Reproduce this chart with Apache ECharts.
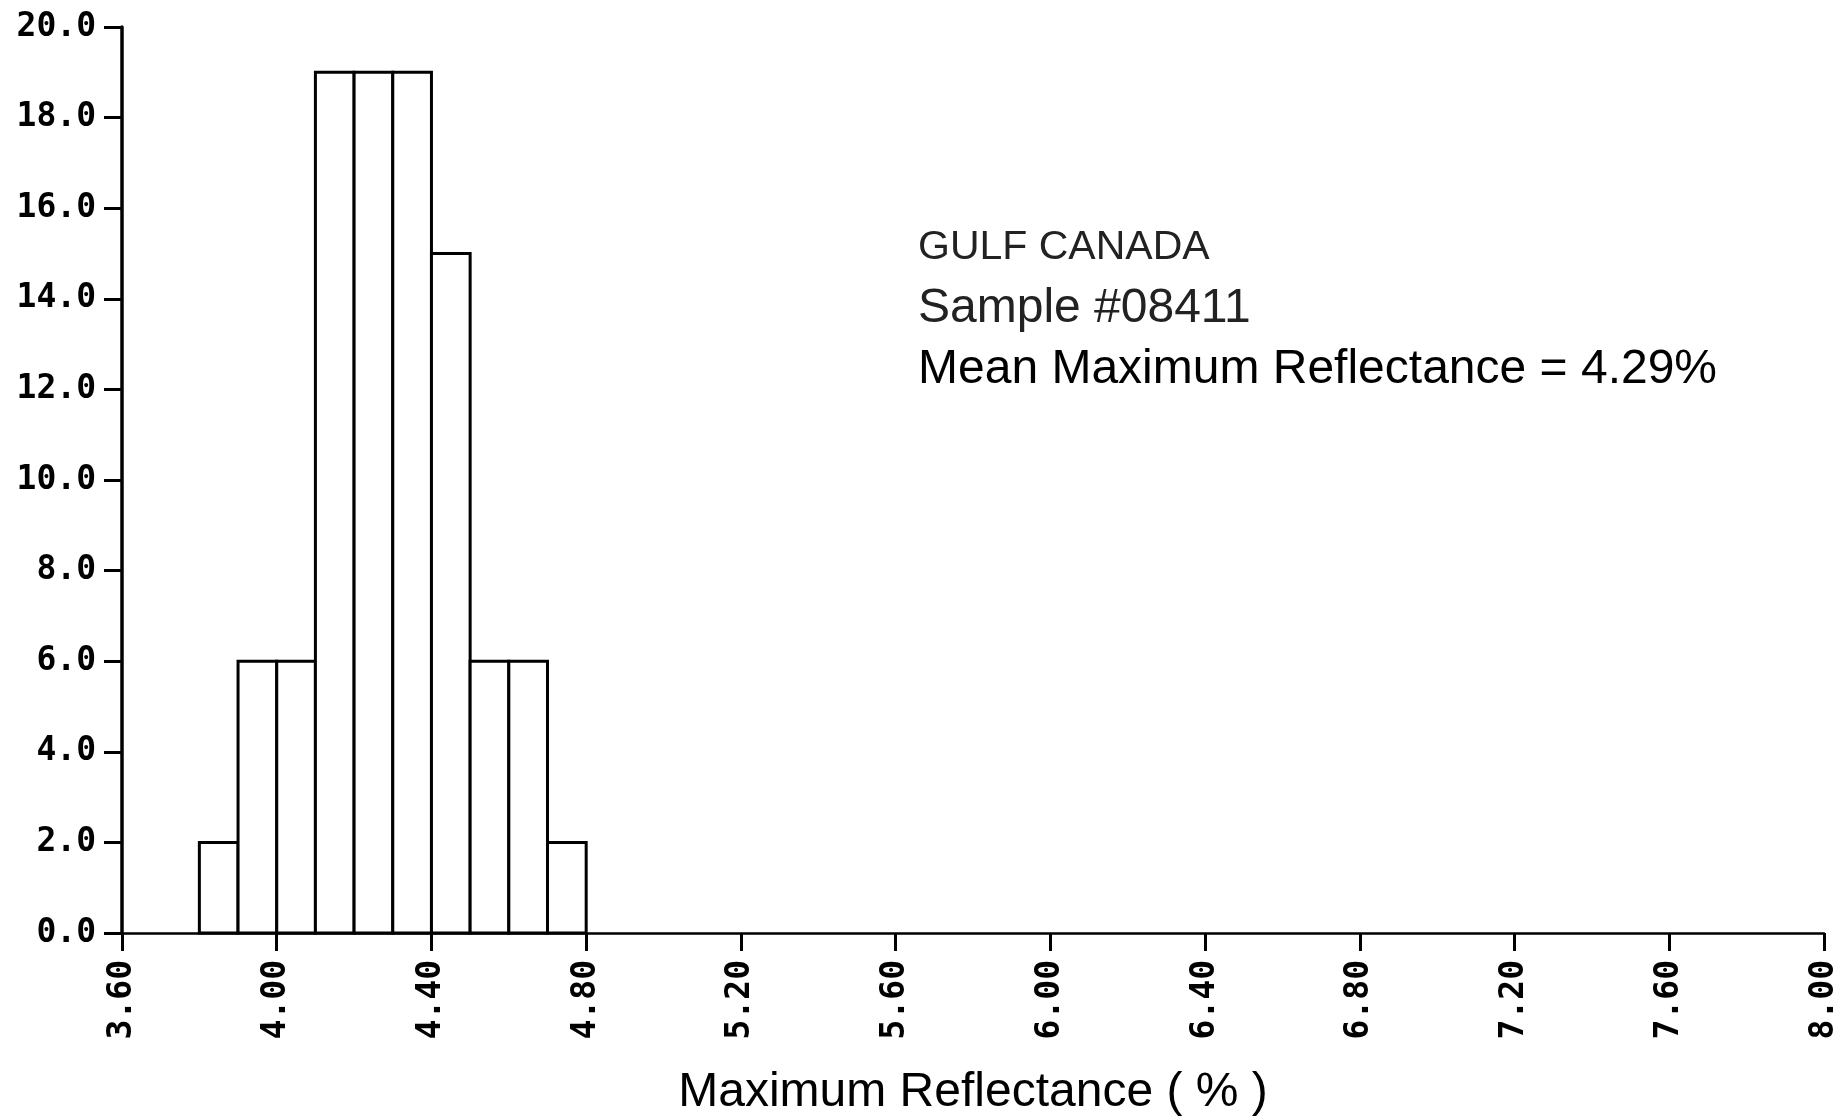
<!DOCTYPE html>
<html>
<head>
<meta charset="utf-8">
<script src="https://cdn.jsdelivr.net/npm/echarts@6/dist/echarts.min.js"></script>
<style>
html,body{margin:0;padding:0;background:#fff;}
#chart{width:1841px;height:1116px;}
</style>
</head>
<body>
<div id="chart"></div>
<script>
// Histogram bins (lower edge, upper edge) and counts
const binLow  = [3.8, 3.9, 4.0, 4.1, 4.2, 4.3, 4.4, 4.5, 4.6, 4.7];
const binHigh = [3.9, 4.0, 4.1, 4.2, 4.3, 4.4, 4.5, 4.6, 4.7, 4.8];
const counts  = [2, 6, 6, 19, 19, 19, 15, 6, 6, 2];
const annotationLines = ["GULF CANADA", "Sample #08411", "Mean Maximum Reflectance = 4.29%"];
const xAxisTitle = "Maximum Reflectance ( % )";

const data = binLow.map((lo, i) => [lo, binHigh[i], counts[i]]);

const chart = echarts.init(document.getElementById('chart'));
const monoFont = '"DejaVu Sans Mono", "Liberation Mono", monospace';
const sansFont = '"Liberation Sans", Arial, sans-serif';
const annotSizes = [41, 48, 48];
chart.setOption({
  backgroundColor: '#ffffff',
  animation: false,
  grid: {left: 122, right: 17, top: 27, bottom: 183, containLabel: false, outerBoundsMode: 'none'},
  xAxis: {
    type: 'value', min: 3.6, max: 8.0, interval: 0.4,
    axisLine: {show: true, onZero: false, lineStyle: {color: '#000', width: 2.5}},
    axisTick: {show: true, inside: false, length: 18, lineStyle: {color: '#000', width: 3}},
    splitLine: {show: false},
    axisLabel: {
      rotate: 90, margin: 27, color: '#000', fontFamily: monoFont, fontWeight: 'bold', fontSize: 33,
      formatter: v => v.toFixed(2)
    },
    name: xAxisTitle, nameLocation: 'middle', nameGap: 136,
    nameTextStyle: {color: '#000', fontFamily: sansFont, fontSize: 48}
  },
  yAxis: {
    type: 'value', min: 0, max: 20, interval: 2,
    axisLine: {show: true, lineStyle: {color: '#000', width: 3.5}},
    axisTick: {show: true, inside: false, length: 18, lineStyle: {color: '#000', width: 3}},
    splitLine: {show: false},
    axisLabel: {
      margin: 26, color: '#000', fontFamily: monoFont, fontWeight: 'bold', fontSize: 33,
      formatter: v => v.toFixed(1)
    }
  },
  graphic: annotationLines.map((t, i) => ({
    type: 'text', left: 918, top: 248 + i * 61 - annotSizes[i] / 2,
    style: {
      text: t, fill: i < 2 ? '#222' : '#000',
      font: annotSizes[i] + 'px ' + sansFont
    }
  })),
  series: [{
    type: 'custom',
    data: data,
    encode: {x: [0, 1], y: 2},
    renderItem: function (params, api) {
      const p0 = api.coord([api.value(0), api.value(2)]);
      const p1 = api.coord([api.value(1), 0]);
      return {
        type: 'rect',
        shape: {x: p0[0], y: p0[1], width: p1[0] - p0[0], height: p1[1] - p0[1]},
        style: {fill: '#fff', stroke: '#000', lineWidth: 3}
      };
    },
    z: 1
  }]
});
</script>
</body>
</html>
